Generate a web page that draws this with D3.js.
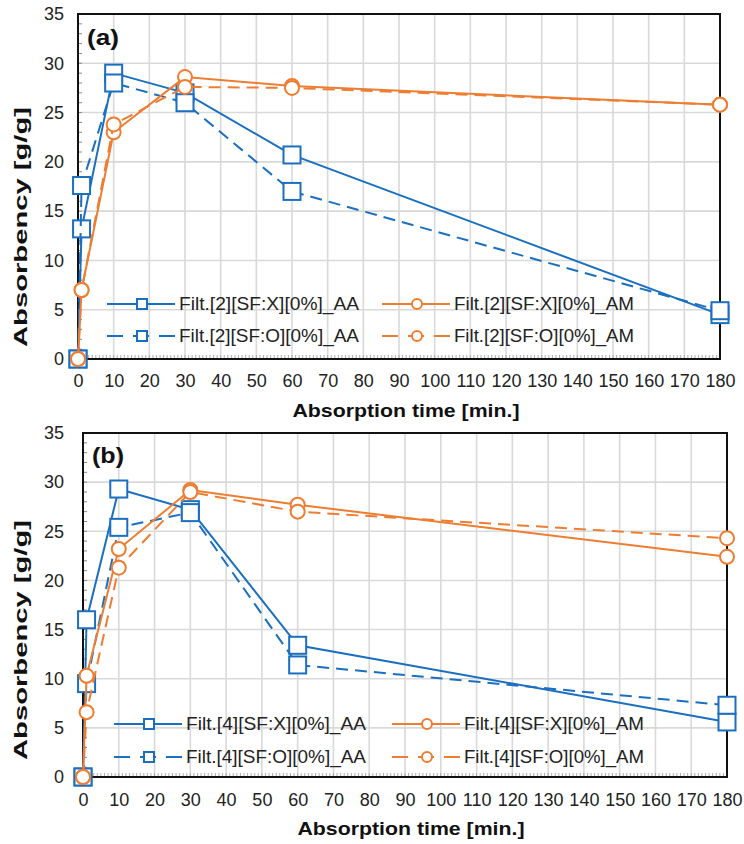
<!DOCTYPE html>
<html>
<head>
<meta charset="utf-8">
<script src="https://cdn.jsdelivr.net/npm/d3@7"></script>
<style>
html,body{margin:0;padding:0;background:#fff;}
svg{display:block;}
text{font-family:"Liberation Sans",Arial,sans-serif;}
</style>
</head>
<body>
<svg id="chart" width="744" height="844"></svg>
<script>
// ---- data ----
const times = [0, 1, 10, 30, 60, 180];
const xTicks = [0,10,20,30,40,50,60,70,80,90,100,110,120,130,140,150,160,170,180];
const yTicks = [0,5,10,15,20,25,30,35];

const a_X_AA = [0, 13.2, 29.0, 27.0, 20.7, 4.5];
const a_O_AA = [0, 17.6, 28.0, 26.0, 17.0, 4.9];
const a_X_AM = [0, 7.0, 23.0, 28.6, 27.7, 25.8];
const a_O_AM = [0, 7.0, 23.8, 27.6, 27.5, 25.8];

const b_X_AA = [0, 16.0, 29.3, 27.2, 13.4, 5.6];
const b_O_AA = [0, 9.5, 25.4, 26.9, 11.4, 7.3];
const b_X_AM = [0, 10.3, 23.2, 29.2, 27.7, 22.4];
const b_O_AM = [0, 6.6, 21.3, 29.0, 27.0, 24.3];

const a_names = ["Filt.[2][SF:X][0%]_AA","Filt.[2][SF:O][0%]_AA","Filt.[2][SF:X][0%]_AM","Filt.[2][SF:O][0%]_AM"];
const b_names = ["Filt.[4][SF:X][0%]_AA","Filt.[4][SF:O][0%]_AA","Filt.[4][SF:X][0%]_AM","Filt.[4][SF:O][0%]_AM"];

const xTitle = "Absorption time [min.]";
const yTitle = "Absorbency [g/g]";

// ---- style ----
const BLUE = "#1a6fc0";
const ORANGE = "#ee7d31";
const DASH = "12,7";

const svg = d3.select("#chart");

function panel(cfg){
  const x = d3.scaleLinear().domain([0,180]).range([cfg.left, cfg.right]);
  const y = d3.scaleLinear().domain([0,35]).range([cfg.bottom, cfg.top]);
  const g = svg.append("g");

  // grid
  g.append("g").selectAll("line.vg").data(xTicks.slice(1)).join("line")
    .attr("x1", d=>x(d)).attr("x2", d=>x(d)).attr("y1", y(0)).attr("y2", y(35))
    .attr("stroke", "#d9d9d9").attr("stroke-width", 1.6);
  g.append("g").selectAll("line.hg").data(yTicks.slice(1)).join("line")
    .attr("x1", x(0)).attr("x2", x(180)).attr("y1", d=>y(d)).attr("y2", d=>y(d))
    .attr("stroke", "#d9d9d9").attr("stroke-width", 1.6);

  // minor ticks
  g.append("g").selectAll("line").data(d3.range(1,35)).join("line")
    .attr("x1", x(0)).attr("x2", x(0)+4).attr("y1", d=>y(d)).attr("y2", d=>y(d))
    .attr("stroke", "#888").attr("stroke-width", 1);
  g.append("g").selectAll("line").data(d3.range(1,180)).join("line")
    .attr("x1", d=>x(d)).attr("x2", d=>x(d)).attr("y1", y(0)).attr("y2", y(0)-4)
    .attr("stroke", "#999").attr("stroke-width", 0.8);

  // frame
  g.append("rect").attr("x", x(0)).attr("y", y(35)).attr("width", x(180)-x(0)).attr("height", y(0)-y(35))
    .attr("fill","none").attr("stroke","#111").attr("stroke-width",2);

  // axes
  const xAxis = d3.axisBottom(x).tickValues(xTicks).tickSize(0).tickPadding(0);
  const gx = g.append("g").attr("transform", `translate(0,${cfg.xLabelY})`).call(xAxis);
  gx.select(".domain").remove();
  gx.selectAll("text").attr("font-size", 18).attr("fill", "#222").attr("dy", "0.35em")
    .attr("font-family", '"Liberation Sans",Arial,sans-serif');

  const yAxis = d3.axisLeft(y).tickValues(yTicks).tickSize(0).tickPadding(0);
  const gy = g.append("g").attr("transform", `translate(${cfg.yLabelX},0)`).call(yAxis);
  gy.select(".domain").remove();
  gy.selectAll("text").attr("font-size", 18).attr("fill", "#222")
    .attr("font-family", '"Liberation Sans",Arial,sans-serif');

  // titles
  g.append("text").attr("x", cfg.xTitleX).attr("y", cfg.xTitleY).attr("text-anchor","middle")
    .attr("dominant-baseline","central").attr("font-size", 18.5).attr("font-weight","bold")
    .attr("fill","#111").attr("textLength", 227).attr("lengthAdjust","spacingAndGlyphs").text(xTitle);
  g.append("text").attr("transform", `translate(${cfg.yTitleX},${cfg.yTitleY}) rotate(-90)`)
    .attr("text-anchor","middle").attr("dominant-baseline","central").attr("font-size", 19)
    .attr("font-weight","bold").attr("fill","#111").attr("textLength", 240)
    .attr("lengthAdjust","spacingAndGlyphs").text(yTitle);

  // panel label
  g.append("text").attr("x", x(0)+9).attr("y", cfg.labelY).attr("dominant-baseline","central")
    .attr("font-size", 22).attr("font-weight","bold").attr("fill","#111")
    .attr("textLength", 32).attr("lengthAdjust","spacingAndGlyphs").text(cfg.label);

  // legend
  const leg = g.append("g");
  cfg.series.forEach((s,i)=>{
    const col = i < 2 ? 0 : 1;
    const row = i % 2;
    const lx0 = cfg.legX[col], ly = cfg.legY[row];
    leg.append("line").attr("x1", lx0).attr("x2", lx0+68).attr("y1", ly).attr("y2", ly)
      .attr("stroke", s.color).attr("stroke-width", 2)
      .attr("stroke-dasharray", s.dash ? "16,10" : null);
    const mx = lx0 + 35;
    if (s.shape === "square") {
      leg.append("rect").attr("x", mx-5).attr("y", ly-5).attr("width",10).attr("height",10)
        .attr("fill","#fff").attr("stroke", s.color).attr("stroke-width",2);
    } else {
      leg.append("circle").attr("cx", mx).attr("cy", ly).attr("r", 5)
        .attr("fill","#fff").attr("stroke", s.color).attr("stroke-width",2);
    }
    leg.append("text").attr("x", lx0+72).attr("y", ly).attr("dominant-baseline","central")
      .attr("font-size", 18).attr("fill","#222").attr("textLength", 180)
      .attr("lengthAdjust","spacingAndGlyphs").text(cfg.names[i]);
  });

  // series
  const line = d3.line().x(d=>x(d[0])).y(d=>y(d[1]));
  cfg.series.forEach(s=>{
    const pts = times.map((t,i)=>[t, s.values[i]]);
    const sg = g.append("g");
    sg.append("path").attr("d", line(pts)).attr("fill","none").attr("stroke", s.color)
      .attr("stroke-width", 2).attr("stroke-dasharray", s.dash ? DASH : null);
    if (s.shape === "square") {
      sg.selectAll("rect").data(pts).join("rect")
        .attr("x", d=>x(d[0])-8.5).attr("y", d=>y(d[1])-8.5).attr("width",17).attr("height",17)
        .attr("fill","#fff").attr("stroke", s.color).attr("stroke-width",2);
    } else {
      sg.selectAll("circle").data(pts).join("circle")
        .attr("cx", d=>x(d[0])).attr("cy", d=>y(d[1])).attr("r", 7)
        .attr("fill","#fff").attr("stroke", s.color).attr("stroke-width",2);
    }
  });
}

panel({
  left: 78, right: 720, top: 14, bottom: 359,
  xLabelY: 381, yLabelX: 64, xTitleX: 406, xTitleY: 410, yTitleX: 20, yTitleY: 227,
  label: "(a)", labelY: 37,
  legX: [107, 382], legY: [304, 336],
  names: a_names,
  series: [
    {values: a_X_AA, color: BLUE, dash: false, shape: "square"},
    {values: a_O_AA, color: BLUE, dash: true, shape: "square"},
    {values: a_X_AM, color: ORANGE, dash: false, shape: "circle"},
    {values: a_O_AM, color: ORANGE, dash: true, shape: "circle"}
  ]
});

panel({
  left: 83, right: 727, top: 433, bottom: 777,
  xLabelY: 800, yLabelX: 64, xTitleX: 411, xTitleY: 828, yTitleX: 20, yTitleY: 640,
  label: "(b)", labelY: 455,
  legX: [114, 392], legY: [724, 757],
  names: b_names,
  series: [
    {values: b_X_AA, color: BLUE, dash: false, shape: "square"},
    {values: b_O_AA, color: BLUE, dash: true, shape: "square"},
    {values: b_X_AM, color: ORANGE, dash: false, shape: "circle"},
    {values: b_O_AM, color: ORANGE, dash: true, shape: "circle"}
  ]
});
</script>
</body>
</html>
